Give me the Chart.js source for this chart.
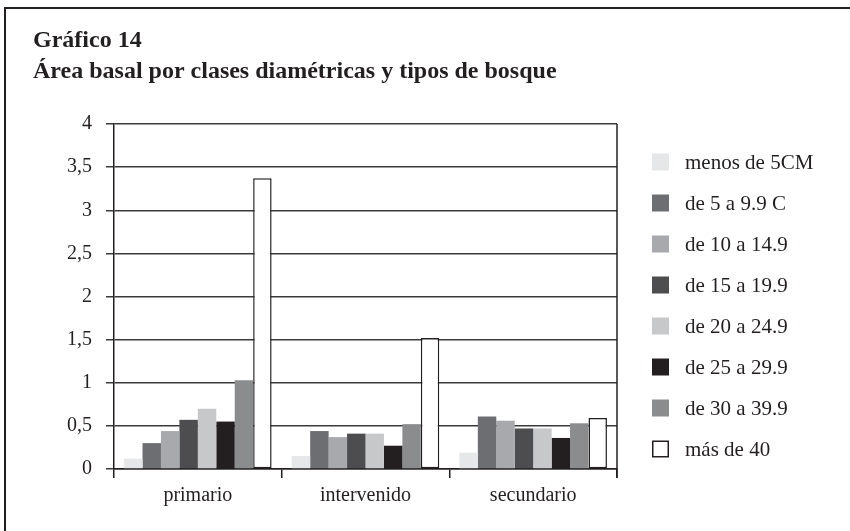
<!DOCTYPE html>
<html>
<head>
<meta charset="utf-8">
<script src="https://cdn.jsdelivr.net/npm/chart.js@4/dist/chart.umd.min.js"></script>
<style>
  html, body { margin: 0; padding: 0; background: #ffffff; }
  canvas { display: block; }
</style>
</head>
<body>
<canvas id="grafico" width="850" height="531"></canvas>
<script>
// Área basal por clases diamétricas
const tiposBosque = ['primario', 'intervenido', 'secundario'];
const clases = ['menos de 5CM', 'de 5 a 9.9 C', 'de 10 a 14.9', 'de 15 a 19.9',
                'de 20 a 24.9', 'de 25 a 29.9', 'de 30 a 39.9', 'más de 40'];
const menos5  = [0.12, 0.15, 0.19];
const de5a10  = [0.30, 0.44, 0.61];
const de10a15 = [0.44, 0.37, 0.56];
const de15a20 = [0.57, 0.41, 0.47];
const de20a25 = [0.70, 0.41, 0.47];
const de25a30 = [0.55, 0.27, 0.36];
const de30a40 = [1.03, 0.52, 0.53];
const mas40   = [3.37, 1.52, 0.59];
const yTicks = [0, 0.5, 1, 1.5, 2, 2.5, 3, 3.5, 4];

const series = [menos5, de5a10, de10a15, de15a20, de20a25, de25a30, de30a40, mas40];
const colores = ['#e6e7e8', '#6d6e71', '#a7a9ac', '#4d4d4f', '#c7c8ca', '#231f20', '#8a8c8e', '#ffffff'];
const tinta = '#231f20';
const serif = '"Liberation Serif", "Times New Roman", serif';

const datasets = series.map((vals, i) => ({
    label: clases[i],
    data: vals,
    backgroundColor: colores[i],
    borderColor: tinta,
    borderWidth: i === 7 ? 1.5 : 0,
    borderSkipped: false,
    categoryPercentage: 0.88,
    barPercentage: 1.0
}));

// marco, títulos, borde derecho y leyenda
const decorado = {
    id: 'decorado',
    afterDraw(chart) {
        const ctx = chart.ctx;
        const area = chart.chartArea;
        ctx.save();
        ctx.strokeStyle = tinta;
        ctx.lineWidth = 2;
        ctx.beginPath();
        ctx.moveTo(5, 531);
        ctx.lineTo(5, 8);
        ctx.lineTo(850, 8);
        ctx.stroke();

        ctx.fillStyle = tinta;
        ctx.textBaseline = 'alphabetic';
        ctx.textAlign = 'left';
        ctx.font = 'bold 24px ' + serif;
        ctx.fillText('Gráfico 14', 33, 47);
        ctx.fillText('Área basal por clases diamétricas y tipos de bosque', 33, 78);

        ctx.lineWidth = 1.5;
        ctx.beginPath();
        ctx.moveTo(area.right, area.top);
        ctx.lineTo(area.right, area.bottom + 9);
        ctx.stroke();

        ctx.font = '21px ' + serif;
        ctx.textBaseline = 'middle';
        chart.data.datasets.forEach((ds, i) => {
            const cy = 162 + i * 41;
            ctx.fillStyle = ds.backgroundColor;
            ctx.fillRect(652, cy - 8.5, 17, 17);
            if (ds.borderWidth) {
                ctx.strokeStyle = tinta;
                ctx.lineWidth = 1.5;
                ctx.strokeRect(652.75, cy - 7.75, 15.5, 15.5);
            }
            ctx.fillStyle = tinta;
            ctx.fillText(ds.label, 685, cy + 1);
        });
        ctx.restore();
    }
};

new Chart(document.getElementById('grafico').getContext('2d'), {
    type: 'bar',
    data: { labels: tiposBosque, datasets: datasets },
    options: {
        responsive: false,
        animation: false,
        layout: { padding: { left: 0, right: 233, top: 124, bottom: 0 } },
        plugins: {
            legend: { display: false },
            title: { display: false },
            tooltip: { enabled: false }
        },
        scales: {
            x: {
                offset: true,
                afterFit(scale) { scale.height = 62; },
                grid: {
                    offset: true,
                    drawOnChartArea: false,
                    drawTicks: true,
                    tickLength: 9,
                    color: tinta,
                    lineWidth: 1.5
                },
                border: { display: true, color: tinta, width: 1.5 },
                ticks: {
                    color: tinta,
                    padding: 6,
                    font: { family: serif, size: 20 }
                }
            },
            y: {
                min: 0,
                max: 4,
                afterFit(scale) { scale.width = 114; },
                afterBuildTicks(scale) { scale.ticks = yTicks.map(v => ({ value: v })); },
                grid: {
                    color: '#3a3a3a',
                    lineWidth: 1.5,
                    drawTicks: true,
                    tickLength: 8
                },
                border: { display: true, color: tinta, width: 1.5 },
                ticks: {
                    color: tinta,
                    padding: 14,
                    font: { family: serif, size: 20 },
                    callback: v => String(v).replace('.', ',')
                }
            }
        }
    },
    plugins: [decorado]
});
</script>
</body>
</html>
